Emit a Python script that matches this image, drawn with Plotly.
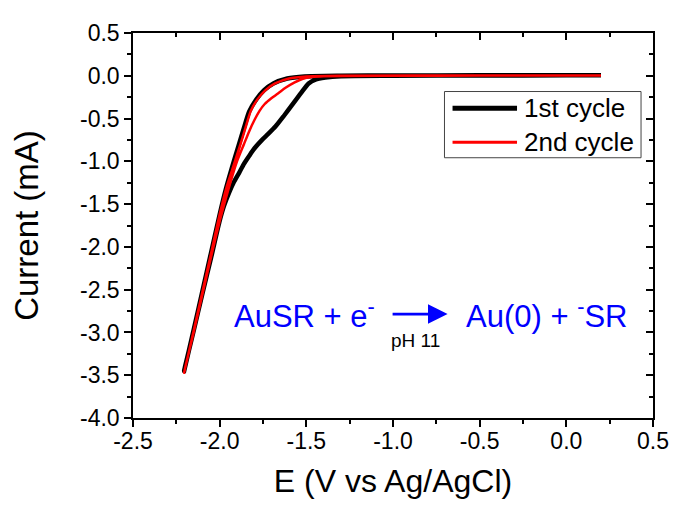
import plotly.graph_objects as go

# ---- data ----
# 1st cycle: cathodic sweep 0.2 -> -2.2 V, then return sweep -2.2 -> 0.2 V
e_c1_fwd = [0.2, 0.0, -0.5, -1.0, -1.3, -1.39, -1.448, -1.487, -1.53, -1.582, -1.63, -1.677,
            -1.72, -1.754, -1.80, -1.83, -1.86, -1.887, -1.92, -1.945, -1.975, -2.002,
            -2.05, -2.10, -2.15, -2.20, -2.205]
i_c1_fwd = [0.005, 0.005, 0.004, 0.0, -0.005, -0.02, -0.044, -0.09, -0.20, -0.341, -0.47, -0.591,
            -0.68, -0.746, -0.85, -0.938, -1.03, -1.131, -1.25, -1.362, -1.52, -1.71,
            -2.13, -2.55, -2.98, -3.40, -3.45]
e_c1_rev = [-2.205, -2.15, -2.10, -2.05, -2.00, -1.965, -1.93, -1.89, -1.86, -1.83, -1.79,
            -1.745, -1.69, -1.61, -1.51, -1.3, -1.0, -0.5, 0.0, 0.2]
i_c1_rev = [-3.45, -2.97, -2.52, -2.07, -1.62, -1.33, -1.08, -0.81, -0.61, -0.42, -0.28,
            -0.17, -0.09, -0.032, -0.008, 0.0, 0.003, 0.005, 0.005, 0.005]

# 2nd cycle
e_c2_fwd = [0.2, 0.0, -0.5, -1.0, -1.40, -1.47, -1.52, -1.57, -1.62, -1.66, -1.70, -1.74,
            -1.77, -1.80, -1.83, -1.86, -1.90, -1.95, -2.00, -2.05, -2.10, -2.15, -2.20, -2.205]
i_c2_fwd = [0.003, 0.003, 0.002, 0.0, -0.005, -0.015, -0.035, -0.08, -0.14, -0.20, -0.26, -0.33,
            -0.41, -0.52, -0.65, -0.80, -1.00, -1.33, -1.70, -2.12, -2.56, -3.00, -3.42, -3.47]
e_c2_rev = [-2.205, -2.15, -2.10, -2.05, -2.00, -1.96, -1.92, -1.88, -1.85, -1.82, -1.78,
            -1.735, -1.68, -1.60, -1.50, -1.3, -0.5, 0.2]
i_c2_rev = [-3.47, -2.98, -2.53, -2.08, -1.62, -1.30, -1.05, -0.80, -0.60, -0.41, -0.27,
            -0.167, -0.09, -0.032, -0.008, 0.0, 0.003, 0.003]

x_ticks = [-2.5, -2.0, -1.5, -1.0, -0.5, 0.0, 0.5]
y_ticks = [0.5, 0.0, -0.5, -1.0, -1.5, -2.0, -2.5, -3.0, -3.5, -4.0]
series_names = ["1st cycle", "2nd cycle"]

FONT = "Liberation Sans, Arial, sans-serif"

fig = go.Figure()
fig.add_trace(go.Scatter(x=e_c1_fwd + e_c1_rev[1:], y=i_c1_fwd + i_c1_rev[1:], mode="lines",
                         line=dict(color="black", width=4.5, shape="spline", smoothing=0.6),
                         name=series_names[0], showlegend=False))
fig.add_trace(go.Scatter(x=e_c2_fwd + e_c2_rev[1:], y=i_c2_fwd + i_c2_rev[1:], mode="lines",
                         line=dict(color="#ff0000", width=2.5, shape="spline", smoothing=0.6),
                         name=series_names[1], showlegend=False))
# empty trace to activate mirrored axes (inside ticks on top/right)
fig.add_trace(go.Scatter(x=[], y=[], xaxis="x2", yaxis="y2", showlegend=False, hoverinfo="skip"))

fmt = lambda v: f"{v:.1f}"
axis_common = dict(showgrid=False, zeroline=False, linecolor="black", linewidth=1.5,
                   tickcolor="black", tickwidth=1.5, ticklen=7,
                   tickfont=dict(family=FONT, size=23, color="black"))
minor_out = dict(ticks="outside", dtick=0.25, tick0=0, ticklen=4, tickwidth=1.5, tickcolor="black")
minor_in = dict(ticks="inside", dtick=0.25, tick0=0, ticklen=4, tickwidth=1.5, tickcolor="black")

fig.update_layout(
    width=673, height=500,
    margin=dict(l=125, r=24, t=21, b=90),
    plot_bgcolor="white", paper_bgcolor="white",
    font=dict(family=FONT, color="black"),
    xaxis=dict(range=[-2.5, 0.5], tickvals=x_ticks, ticktext=[fmt(v) for v in x_ticks],
               ticks="outside", showline=True, minor=minor_out, ticklabelstandoff=-5,
               title=dict(text="E (V vs Ag/AgCl)", font=dict(family=FONT, size=32), standoff=16),
               **axis_common),
    yaxis=dict(range=[-4.0, 0.5], tickvals=y_ticks, ticktext=[fmt(v) for v in y_ticks],
               ticks="outside", showline=True, minor=minor_out,
               title=dict(text="Current (mA)", font=dict(family=FONT, size=33), standoff=34),
               **axis_common),
    xaxis2=dict(range=[-2.5, 0.5], overlaying="x", side="top", anchor="y2",
                tickvals=x_ticks, showticklabels=False, ticks="inside", showline=True,
                minor=minor_in, **axis_common),
    yaxis2=dict(range=[-4.0, 0.5], overlaying="y", side="right", anchor="x2",
                tickvals=y_ticks, showticklabels=False, ticks="inside", showline=True,
                minor=minor_in, **axis_common),
)

# ---- custom legend ----
fig.add_shape(type="rect", xref="paper", yref="paper", x0=0.599, x1=0.977, y0=0.676, y1=0.848,
              line=dict(color="#444444", width=1), fillcolor="white", layer="above")
fig.add_shape(type="line", xref="paper", yref="paper", x0=0.6145, x1=0.7385, y0=0.8046, y1=0.8046,
              line=dict(color="black", width=5))
fig.add_shape(type="line", xref="paper", yref="paper", x0=0.6145, x1=0.7385, y0=0.7165, y1=0.7165,
              line=dict(color="#ff0000", width=3))
for yy, name in zip([0.8046, 0.7165], series_names):
    fig.add_annotation(xref="paper", yref="paper", x=0.748, y=yy, text=name, showarrow=False,
                       xanchor="left", yanchor="middle", font=dict(family=FONT, size=26, color="black"))

# ---- reaction annotation ----
BLUE = "#0000ff"
fig.add_annotation(x=-1.509, y=-2.78, text="AuSR + e<sup>-</sup>", showarrow=False,
                   font=dict(family=FONT, size=31, color=BLUE))
fig.add_annotation(x=-0.115, y=-2.78, text="Au(0) + <sup>-</sup>SR", showarrow=False,
                   font=dict(family=FONT, size=31, color=BLUE))
fig.add_annotation(x=-0.685, y=-2.785, ax=-1.011, ay=-2.785, axref="x", ayref="y",
                   text="", showarrow=True, arrowhead=2, arrowsize=1.4, arrowwidth=2.8,
                   arrowcolor=BLUE)
fig.add_annotation(x=-0.868, y=-3.098, text="pH 11", showarrow=False,
                   font=dict(family=FONT, size=19, color="black"))

fig.write_html("out.html")
